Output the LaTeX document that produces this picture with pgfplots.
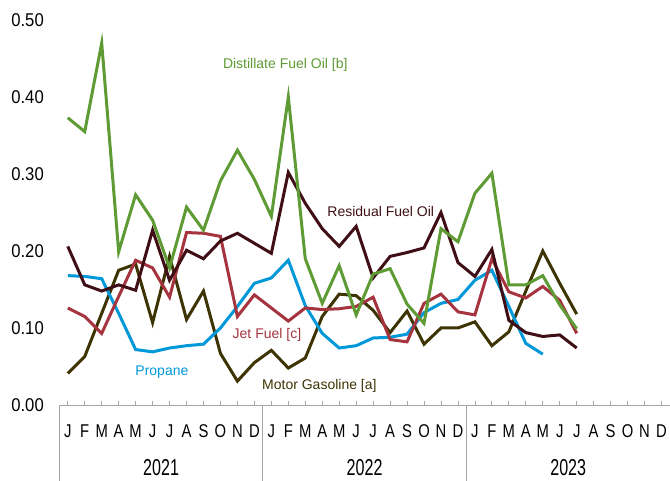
\documentclass[border=0pt]{standalone}
\usepackage{pgfplots}
\pgfplotsset{compat=1.18}
\usepackage{pgfplotstable}
\usepackage{fontspec}
\setmainfont{Liberation Sans}
\newfontfamily\monthfont[FakeStretch=0.8]{Liberation Sans}
\newfontfamily\yearfont[FakeStretch=0.7]{Liberation Sans}
\newfontfamily\yfont[FakeStretch=0.9]{Liberation Sans}
\definecolor{dist}{HTML}{5E9B35}
\definecolor{resid}{HTML}{3F0F15}
\definecolor{prop}{HTML}{0098D8}
\definecolor{jet}{HTML}{A5343F}
\definecolor{mogas}{HTML}{3D3303}
\definecolor{axgray}{HTML}{A6A6A6}

\pgfplotstableread{
x y
0 0.373
1 0.355
2 0.470
3 0.199
4 0.273
5 0.240
6 0.178
7 0.257
8 0.227
9 0.291
10 0.331
11 0.293
12 0.245
13 0.400
14 0.190
15 0.132
16 0.181
17 0.117
18 0.170
19 0.177
20 0.131
21 0.106
22 0.229
23 0.212
24 0.275
25 0.301
26 0.156
27 0.156
28 0.168
29 0.130
30 0.099
}\distillate

\pgfplotstableread{
x y
0 0.206
1 0.156
2 0.148
3 0.156
4 0.149
5 0.227
6 0.162
7 0.201
8 0.190
9 0.213
10 0.223
11 0.210
12 0.197
13 0.302
14 0.262
15 0.229
16 0.206
17 0.232
18 0.165
19 0.193
20 0.198
21 0.204
22 0.250
23 0.185
24 0.167
25 0.202
26 0.110
27 0.094
28 0.089
29 0.091
30 0.074
}\residual

\pgfplotstableread{
x y
0 0.168
1 0.167
2 0.164
3 0.119
4 0.072
5 0.069
6 0.074
7 0.077
8 0.079
9 0.100
10 0.128
11 0.158
12 0.165
13 0.188
14 0.129
15 0.093
16 0.074
17 0.077
18 0.087
19 0.088
20 0.092
21 0.120
22 0.132
23 0.137
24 0.162
25 0.175
26 0.128
27 0.080
28 0.066
}\propane

\pgfplotstableread{
x y
0 0.126
1 0.115
2 0.093
3 0.141
4 0.188
5 0.178
6 0.140
7 0.224
8 0.223
9 0.219
10 0.115
11 0.143
12 0.126
13 0.109
14 0.126
15 0.124
16 0.125
17 0.128
18 0.140
19 0.085
20 0.082
21 0.132
22 0.144
23 0.121
24 0.117
25 0.190
26 0.147
27 0.139
28 0.154
29 0.136
30 0.093
}\jetfuel

\pgfplotstableread{
x y
0 0.041
1 0.063
2 0.119
3 0.175
4 0.183
5 0.107
6 0.193
7 0.111
8 0.148
9 0.067
10 0.031
11 0.055
12 0.071
13 0.048
14 0.061
15 0.115
16 0.144
17 0.142
18 0.123
19 0.094
20 0.122
21 0.079
22 0.100
23 0.100
24 0.108
25 0.077
26 0.095
27 0.148
28 0.200
29 0.158
30 0.118
}\motorgas

\begin{document}
\begin{tikzpicture}
\useasboundingbox (-59.3pt,-76pt) rectangle (610.7pt,405pt);
\begin{axis}[
  at={(0pt,0pt)}, anchor=south west,
  scale only axis, width=610.7pt, height=385pt,
  xmin=-0.5, xmax=35.5, ymin=0, ymax=0.5,
  clip=false,
  axis x line*=bottom, axis y line*=left,
  x axis line style={draw=axgray, line width=0.8pt, -},
  y axis line style={draw=none},
  xtick={0,...,35},
  xticklabels={J,F,M,A,M,J,J,A,S,O,N,D,J,F,M,A,M,J,J,A,S,O,N,D,J,F,M,A,M,J,J,A,S,O,N,D},
  xtick style={draw=axgray, line width=0.8pt},
  tick align=inside,
  major tick length=4pt,
  ytick={0,0.1,0.2,0.3,0.4,0.5},
  ytick style={draw=none},
  yticklabel style={/pgf/number format/fixed, /pgf/number format/fixed zerofill, /pgf/number format/precision=2, /pgf/number format/assume math mode=true},
  yticklabel style={font=\yfont\fontsize{18.5}{18.5}\selectfont, anchor=east, xshift=-12pt},
  xticklabel style={font=\monthfont\fontsize{18.5}{18.5}\selectfont, anchor=center, yshift=-26pt},
  every axis plot/.append style={line width=3pt, line join=miter, no markers},
]
\addplot[mogas] table {\motorgas};
\addplot[prop] table {\propane};
\addplot[jet] table {\jetfuel};
\addplot[resid] table {\residual};
\addplot[dist] table {\distillate};

\node[dist, font=\fontsize{14}{14}\selectfont] at (axis cs:12.82,0.4416) {Distillate Fuel Oil [b]};
\node[resid, font=\fontsize{14}{14}\selectfont] at (axis cs:18.45,0.2510) {Residual Fuel Oil};
\node[jet, font=\fontsize{14}{14}\selectfont] at (axis cs:11.74,0.0909) {Jet Fuel [c]};
\node[mogas, font=\fontsize{14}{14}\selectfont] at (axis cs:14.83,0.0247) {Motor Gasoline [a]};
\node[prop, font=\fontsize{14}{14}\selectfont] at (axis cs:5.55,0.0433) {Propane};

\foreach \xx in {-0.5,11.5,23.5,35.5} {
  \edef\temp{\noexpand\draw[axgray, line width=0.8pt] (axis cs:\xx,0) -- ++(0pt,-76pt);}
  \temp
}
\node[font=\yearfont\fontsize{23}{23}\selectfont] at ([yshift=-62.5pt]axis cs:5.5,0) {2021};
\node[font=\yearfont\fontsize{23}{23}\selectfont] at ([yshift=-62.5pt]axis cs:17.5,0) {2022};
\node[font=\yearfont\fontsize{23}{23}\selectfont] at ([yshift=-62.5pt]axis cs:29.5,0) {2023};
\end{axis}
\end{tikzpicture}
\end{document}
